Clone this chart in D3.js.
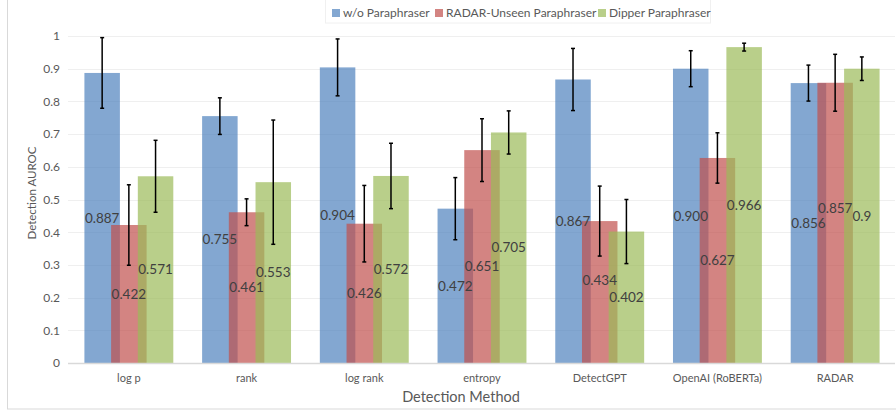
<!DOCTYPE html>
<html>
<head>
<meta charset="utf-8">
<script src="https://cdn.jsdelivr.net/npm/d3@7"></script>
<style>
  html, body { margin: 0; padding: 0; background: #fff; }
  svg { display: block; font-family: Lato, "Open Sans", sans-serif; }
</style>
</head>
<body>
<div id="chart"></div>
<script>
// chart data
const methods = ["log p", "rank", "log rank", "entropy", "DetectGPT", "OpenAI (RoBERTa)", "RADAR"];
const seriesNames = ["w/o Paraphraser", "RADAR-Unseen Paraphraser", "Dipper Paraphraser"];
const seriesColors = ["#4F81BD", "#C0504D", "#9BBB59"];

const noParaValues = [0.887, 0.755, 0.904, 0.472, 0.867, 0.900, 0.856];
const unseenValues = [0.422, 0.461, 0.426, 0.651, 0.434, 0.627, 0.857];
const dipperValues = [0.571, 0.553, 0.572, 0.705, 0.402, 0.966, 0.9];

const noParaLabels = ["0.887", "0.755", "0.904", "0.472", "0.867", "0.900", "0.856"];
const unseenLabels = ["0.422", "0.461", "0.426", "0.651", "0.434", "0.627", "0.857"];
const dipperLabels = ["0.571", "0.553", "0.572", "0.705", "0.402", "0.966", "0.9"];

const noParaErrors = [0.108, 0.056, 0.087, 0.095, 0.095, 0.055, 0.055];
const unseenErrors = [0.123, 0.041, 0.117, 0.096, 0.107, 0.077, 0.087];
const dipperErrors = [0.110, 0.190, 0.100, 0.066, 0.098, 0.012, 0.036];

const yTicks = [0, 0.1, 0.2, 0.3, 0.4, 0.5, 0.6, 0.7, 0.8, 0.9, 1];

const width = 896, height = 412;
const plot = { left: 70, right: 894, top: 36, bottom: 363 };

// a few labels were dragged off the bar centre in the original (px)
const labelNudge = { "entropy|1": 10, "DetectGPT|1": -12, "RADAR|1": -15 };

const svg = d3.select("#chart").append("svg")
    .attr("width", width)
    .attr("height", height);

// outer chart frame
svg.append("rect")
    .attr("x", 7.5).attr("y", -2)
    .attr("width", width + 10).attr("height", 411)
    .style("fill", "none")
    .style("stroke", "#d9d9d9");

const x0 = d3.scaleBand().domain(methods).range([plot.left, plot.right]).padding(0);
const x1 = d3.scalePoint().domain(seriesNames).range([-26.7, 26.7]);
const barWidth = 35.5;
const y = d3.scaleLinear().domain([0, 1]).range([plot.bottom, plot.top]);

// gridlines
svg.append("g")
    .selectAll("line")
    .data(yTicks.slice(1))
    .join("line")
    .attr("x1", plot.left - 2).attr("x2", plot.right + 1)
    .attr("y1", d => Math.round(y(d)) + 0.5)
    .attr("y2", d => Math.round(y(d)) + 0.5)
    .style("stroke", "#efefef");

// y axis labels
const yAxis = d3.axisLeft(y).tickValues(yTicks).tickSize(0).tickPadding(8).tickFormat(d3.format("~g"));
const yAxisGroup = svg.append("g")
    .attr("transform", "translate(" + (plot.left - 2) + ",0)")
    .call(yAxis);
yAxisGroup.select(".domain").remove();
yAxisGroup.selectAll("text")
    .style("font-size", "12px")
    .style("fill", "#595959")
    .style("font-family", "Lato, sans-serif");

// build rows for the bars
const table = methods.map((m, i) => ({
    method: m,
    bars: [
        { m: m, k: 0, s: seriesNames[0], v: noParaValues[i], e: noParaErrors[i], t: noParaLabels[i], c: seriesColors[0] },
        { m: m, k: 1, s: seriesNames[1], v: unseenValues[i], e: unseenErrors[i], t: unseenLabels[i], c: seriesColors[1] },
        { m: m, k: 2, s: seriesNames[2], v: dipperValues[i], e: dipperErrors[i], t: dipperLabels[i], c: seriesColors[2] }
    ]
}));

const groups = svg.append("g")
    .selectAll("g")
    .data(table)
    .join("g")
    .attr("transform", d => "translate(" + (x0(d.method) + x0.bandwidth() / 2) + ",0)");

groups.selectAll("rect")
    .data(d => d.bars)
    .join("rect")
    .attr("x", d => x1(d.s) - barWidth / 2)
    .attr("y", d => y(d.v))
    .attr("width", barWidth)
    .attr("height", d => y(0) - y(d.v))
    .style("fill", d => d.c)
    .style("fill-opacity", 0.7);

// data labels, centred in the bar
groups.selectAll("text.value")
    .data(d => d.bars)
    .join("text")
    .attr("class", "value")
    .attr("x", d => x1(d.s))
    .attr("y", d => y(d.v / 2) + (labelNudge[d.m + "|" + d.k] || 0))
    .attr("dy", "0.35em")
    .attr("text-anchor", "middle")
    .style("font-size", "13.5px")
    .style("fill", "#404040")
    .text(d => d.t);

// error bars
const err = groups.selectAll("g.err")
    .data(d => d.bars)
    .join("g")
    .attr("class", "err")
    .style("stroke", "#000")
    .style("stroke-width", 1.5);
err.append("line")
    .attr("x1", d => x1(d.s)).attr("x2", d => x1(d.s))
    .attr("y1", d => y(d.v + d.e)).attr("y2", d => y(d.v - d.e));
err.append("line")
    .attr("x1", d => x1(d.s) - 2).attr("x2", d => x1(d.s) + 2)
    .attr("y1", d => y(d.v + d.e)).attr("y2", d => y(d.v + d.e));
err.append("line")
    .attr("x1", d => x1(d.s) - 2).attr("x2", d => x1(d.s) + 2)
    .attr("y1", d => y(d.v - d.e)).attr("y2", d => y(d.v - d.e));

// x axis
const xAxis = d3.axisBottom(x0).tickSize(0).tickPadding(11);
const xAxisGroup = svg.append("g")
    .attr("transform", "translate(0," + plot.bottom + ")")
    .call(xAxis);
xAxisGroup.select(".domain")
    .attr("d", "M" + (plot.left - 2) + ",0.5H" + (plot.right + 1))
    .style("stroke", "#d9d9d9")
    .style("stroke-width", 1.5);
xAxisGroup.selectAll("text")
    .style("font-size", "11px")
    .style("fill", "#595959")
    .style("font-family", "Lato, sans-serif");

// axis titles
svg.append("text")
    .attr("text-anchor", "middle")
    .attr("x", 461)
    .attr("y", 402)
    .style("font-size", "14.5px")
    .style("fill", "#595959")
    .text("Detection Method");

svg.append("text")
    .attr("text-anchor", "middle")
    .attr("transform", "translate(36,193) rotate(-90)")
    .style("font-size", "11.5px")
    .style("fill", "#595959")
    .text("Detection AUROC");

// legend
svg.append("rect")
    .attr("x", 325.5).attr("y", -1)
    .attr("width", 385).attr("height", 24)
    .style("fill", "#fff")
    .style("stroke", "#f0f0f0");

const legendX = [332, 435, 598];
const legend = svg.append("g")
    .selectAll("g")
    .data(seriesNames)
    .join("g")
    .attr("transform", (d, i) => "translate(" + legendX[i] + ",9)");
legend.append("rect")
    .attr("width", 8).attr("height", 8)
    .style("fill", (d, i) => seriesColors[i])
    .style("fill-opacity", 0.7);
legend.append("text")
    .attr("x", 11).attr("y", 4)
    .attr("dy", "0.35em")
    .style("font-size", "12px")
    .style("fill", "#595959")
    .text(d => d);
</script>
</body>
</html>
